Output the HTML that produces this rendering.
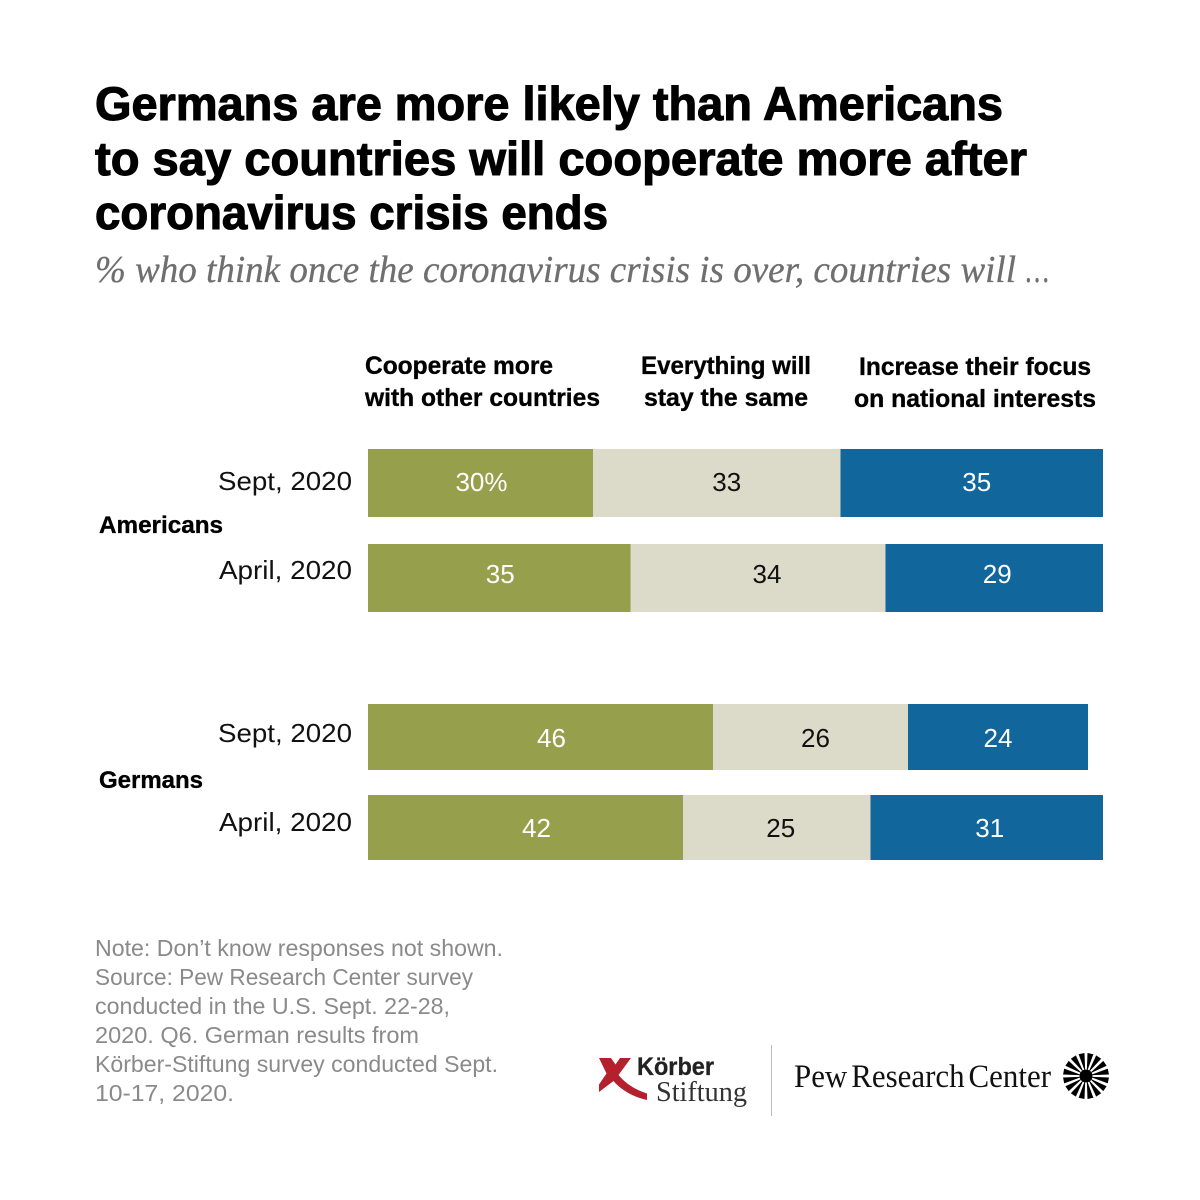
<!DOCTYPE html>
<html lang="en">
<head>
<meta charset="utf-8">
<title>Germans are more likely than Americans to say countries will cooperate more</title>
<style>
html,body{margin:0;padding:0;background:#fff;}
svg{display:block;}
text{font-family:"Liberation Sans",sans-serif;}
.serif{font-family:"Liberation Serif",serif;}
</style>
</head>
<body>
<svg id="chart" width="1200" height="1200" viewBox="0 0 1200 1200" xmlns="http://www.w3.org/2000/svg">
<rect width="1200" height="1200" fill="#fff"/>
<g font-size="47" font-weight="700" fill="#000" stroke="#000" stroke-width="1.1">
<text x="95" y="120" textLength="908" lengthAdjust="spacingAndGlyphs">Germans are more likely than Americans</text>
<text x="95" y="175" textLength="932" lengthAdjust="spacingAndGlyphs">to say countries will cooperate more after</text>
<text x="95" y="229" textLength="513" lengthAdjust="spacingAndGlyphs">coronavirus crisis ends</text>
</g>
<g font-size="38" font-style="italic" fill="#6f6f6f" stroke="#6f6f6f" stroke-width="0.3">
<text class="serif" x="95" y="282" textLength="921" lengthAdjust="spacingAndGlyphs">% who think once the coronavirus crisis is over, countries will</text>
<text class="serif" x="1026" y="282" textLength="23" lengthAdjust="spacingAndGlyphs">…</text>
</g>
<g font-size="25" font-weight="700" fill="#000" stroke="#000" stroke-width="0.35">
<text x="365" y="374" textLength="188" lengthAdjust="spacingAndGlyphs">Cooperate more</text>
<text x="365" y="406" textLength="235" lengthAdjust="spacingAndGlyphs">with other countries</text>
<text x="641" y="374" textLength="170" lengthAdjust="spacingAndGlyphs">Everything will</text>
<text x="644" y="406" textLength="164" lengthAdjust="spacingAndGlyphs">stay the same</text>
<text x="859" y="375" textLength="232" lengthAdjust="spacingAndGlyphs">Increase their focus</text>
<text x="854" y="407" textLength="242" lengthAdjust="spacingAndGlyphs">on national interests</text>
</g>
<g font-size="24" font-weight="700" fill="#000" stroke="#000" stroke-width="0.35">
<text x="99" y="533" textLength="124" lengthAdjust="spacingAndGlyphs">Americans</text>
<text x="99" y="788" textLength="104" lengthAdjust="spacingAndGlyphs">Germans</text>
</g>
<g id="bars"></g>
<g font-size="23.5" fill="#8a8a8a">
<text x="95" y="956" textLength="408" lengthAdjust="spacingAndGlyphs">Note: Don’t know responses not shown.</text>
<text x="95" y="985" textLength="378" lengthAdjust="spacingAndGlyphs">Source: Pew Research Center survey</text>
<text x="95" y="1014" textLength="355" lengthAdjust="spacingAndGlyphs">conducted in the U.S. Sept. 22-28,</text>
<text x="95" y="1043" textLength="324" lengthAdjust="spacingAndGlyphs">2020. Q6. German results from</text>
<text x="95" y="1072" textLength="403" lengthAdjust="spacingAndGlyphs">Körber-Stiftung survey conducted Sept.</text>
<text x="95" y="1101" textLength="139" lengthAdjust="spacingAndGlyphs">10-17, 2020.</text>
</g>
<g>
<path fill="#b5202f" d="M599 1058 L611 1058 L615.5 1064.5 L620 1058 L631 1058 L618.5 1075 C626 1084 636 1090 647 1093.5 L647 1100 C634 1097 622 1091 613.5 1081 L599 1092 L599 1084.5 L606.5 1073.5 Z"/>
<text x="637" y="1075" font-size="25" font-weight="700" fill="#222" stroke="#222" stroke-width="0.3" textLength="77" lengthAdjust="spacingAndGlyphs">Körber</text>
<text class="serif" x="656" y="1101" font-size="29" fill="#333" textLength="91" lengthAdjust="spacingAndGlyphs">Stiftung</text>
</g>
<rect x="771" y="1045" width="1" height="71" fill="#bbb"/>
<g>
<text class="serif" x="794" y="1087" font-size="33" word-spacing="-4" fill="#111" textLength="257" lengthAdjust="spacingAndGlyphs">Pew Research Center</text>
<g id="sunburst"></g>
</g>
</svg>
<script>
var categories = ['Cooperate more', 'Everything will stay the same', 'Increase their focus'];
var rowLabels = ['Sept, 2020', 'April, 2020', 'Sept, 2020', 'April, 2020'];
var cooperateValues = [30, 35, 46, 42];
var sameValues = [33, 34, 26, 25];
var nationalValues = [35, 29, 24, 31];

var seriesValues = [cooperateValues, sameValues, nationalValues];
var seriesColors = ['#969f4c', '#dcdac8', '#11669c'];
var textColors = ['#fff', '#111', '#fff'];
var seriesKeys = ['cooperate', 'same', 'national'];
var rowTops = [449, 544, 704, 795];
var rowHeights = [68, 68, 66, 65];
var rowLabelY = [490, 579, 742, 831];
var rowLabelWidths = [134, 133, 134, 133];
var labelY = [491, 583, 747, 837];
var labelNudge = [[1, 10, 5], [1, 9, 3], [11, 5, 0], [11, 4, 3]];

function xScale(v) { return 368 + v * 7.5; }

var svgNS = 'http://www.w3.org/2000/svg';
var barsGroup = document.getElementById('bars');
rowLabels.forEach(function (label, r) {
  var t = document.createElementNS(svgNS, 'text');
  
  
  t.setAttribute('x', 352 - rowLabelWidths[r]);
  t.setAttribute('y', rowLabelY[r]);
  t.setAttribute('textLength', rowLabelWidths[r]);
  t.setAttribute('lengthAdjust', 'spacingAndGlyphs');
  t.setAttribute('font-size', '26');
  t.setAttribute('fill', '#111');
  t.textContent = label;
  barsGroup.appendChild(t);
  var cum = 0;
  seriesValues.forEach(function (vals, s) {
    var v = vals[r];
    var rect = document.createElementNS(svgNS, 'rect');
    
    
    rect.setAttribute('data-series', seriesKeys[s]);
    rect.setAttribute('x', xScale(cum));
    rect.setAttribute('y', rowTops[r]);
    rect.setAttribute('width', xScale(cum + v) - xScale(cum));
    rect.setAttribute('height', rowHeights[r]);
    rect.setAttribute('fill', seriesColors[s]);
    barsGroup.appendChild(rect);
    var val = document.createElementNS(svgNS, 'text');
    
    
    val.setAttribute('x', xScale(cum + v / 2) + labelNudge[r][s]);
    val.setAttribute('y', labelY[r]);
    val.setAttribute('text-anchor', 'middle');
    val.setAttribute('font-size', '26');
    val.setAttribute('fill', textColors[s]);
    val.textContent = v + (r === 0 && s === 0 ? '%' : '');
    barsGroup.appendChild(val);
    cum += v;
  });
});

var sunburst = document.getElementById('sunburst');
var rays = 16;
var hubX = 1086;
var hubY = 1076;
function polar(r, a) { return (hubX + r * Math.cos(a)).toFixed(2) + ',' + (hubY + r * Math.sin(a)).toFixed(2); }
for (var i = 0; i < rays; i++) {
  var a = (i + 0.5) * 2 * Math.PI / rays;
  var ray = document.createElementNS(svgNS, 'polygon');
  
  
  ray.setAttribute('points', polar(4, a) + ' ' + polar(23, a - 0.13) + ' ' + polar(23, a + 0.13));
  ray.setAttribute('fill', '#000');
  sunburst.appendChild(ray);
}
var hub = document.createElementNS(svgNS, 'circle');


hub.setAttribute('cx', hubX);
hub.setAttribute('cy', hubY);
hub.setAttribute('r', 6.5);
hub.setAttribute('fill', '#000');
sunburst.appendChild(hub);
</script>
</body>
</html>
